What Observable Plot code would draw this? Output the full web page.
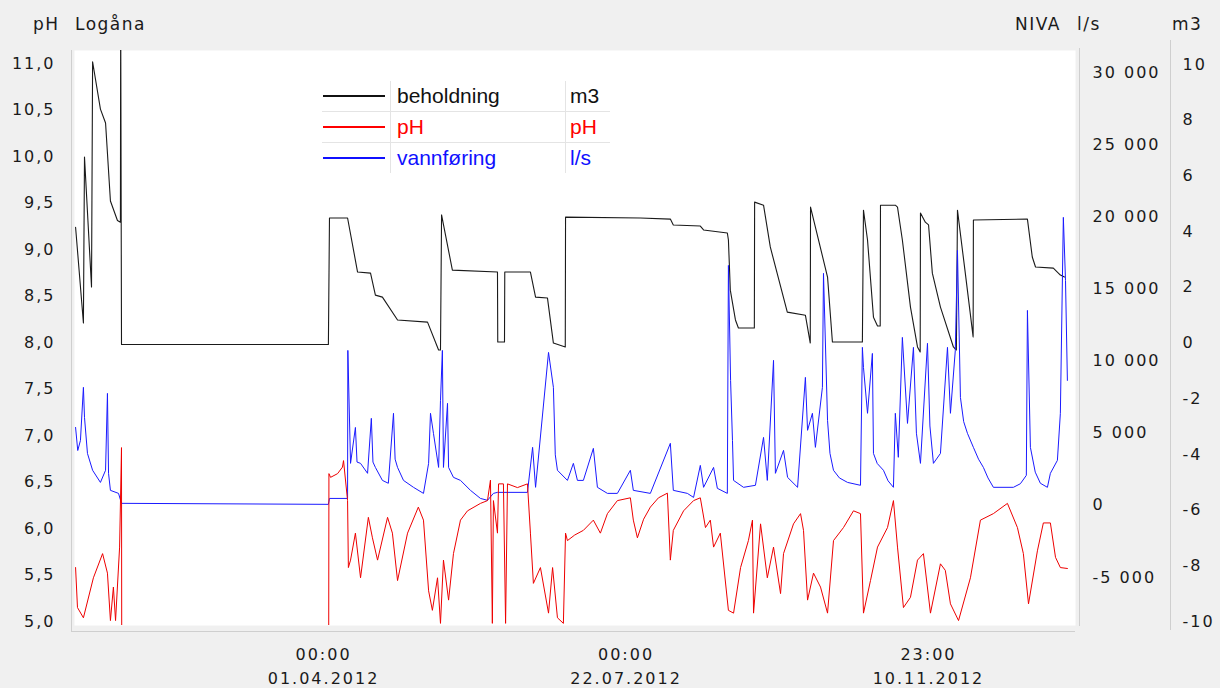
<!DOCTYPE html>
<html><head><meta charset="utf-8">
<script src="https://cdn.jsdelivr.net/npm/d3@7"></script>
<script src="https://cdn.jsdelivr.net/npm/@observablehq/plot@0.6"></script>
<style>
html,body{margin:0;padding:0;background:#f0f0f0;}
#wrap{position:relative;width:1220px;height:688px;overflow:hidden;font-family:"DejaVu Sans",sans-serif;}
#wrap svg{position:absolute;left:0;top:0;}
#wrap svg text{letter-spacing:2px;}
.hdr{position:absolute;top:14px;font-size:17px;letter-spacing:1.5px;color:#1a1a1a;white-space:nowrap;}
.vline{position:absolute;background:#cfcfcf;}
#legend{position:absolute;left:322px;top:81px;background:#fff;font-family:"Liberation Sans",Arial,sans-serif;font-size:21px;}
#legend table{border-collapse:collapse;border-style:hidden;}
#legend td{height:30px;padding:0;border:1px solid #e4e4e4;}
#legend .s{width:68px;}
#legend .s div{width:62px;height:2px;margin-left:1px;}
#legend .n{width:168px;padding-left:6px;}
#legend .u{width:40px;padding-left:4px;}
</style></head>
<body>
<div id="wrap">
  <div class="vline" style="left:71px;top:50px;width:1px;height:582px"></div>
  <div class="vline" style="left:71px;top:631px;width:1004px;height:1px"></div>
  <div class="vline" style="left:1079px;top:48px;width:1px;height:578px"></div>
  <div class="vline" style="left:1170px;top:40px;width:1px;height:590px"></div>
</div>
<script>
// ---- data (day = days since 2012-01-01 00:00) ----
const beholdning = [[-0.8,4.16],[2.1,0.72],[2.5,6.68],[5.1,2.01],[5.5,10.1],[8.4,8.4],[10.3,7.9],[12.1,5.1],[14.7,4.4],[15.8,4.34],[15.9,12],[16.2,-0.05],[92.8,-0.05],[93.2,4.49],[99.9,4.49],[103.6,2.55],[108.4,2.51],[110.2,1.72],[112.8,1.65],[118.4,0.83],[129.5,0.75],[133.6,-0.25],[134.3,-0.25],[134.7,4.6],[138.7,2.62],[155.4,2.55],[155.5,0.04],[158.0,0.04],[158.1,2.55],[167.6,2.55],[169.5,1.65],[173.9,1.62],[176.1,0],[180.5,-0.14],[180.6,4.52],[208.3,4.49],[219.4,4.45],[220.5,4.24],[230.5,4.2],[231.7,4.06],[240.5,3.95],[240.9,3.7],[241.6,1.9],[243.5,0.83],[244.6,0.54],[250.5,0.54],[250.6,5.06],[253.9,4.95],[256.4,3.45],[262.7,1.11],[269.4,1.0],[271.2,0],[271.3,4.88],[277.6,2.37],[279.4,0.04],[290.5,0.04],[290.9,4.77],[292.4,3.70],[294.6,0.93],[296.1,0.61],[297.1,0.61],[297.2,4.95],[302.7,4.95],[303.5,4.88],[305.3,3.70],[308.3,1.29],[310.9,-0.14],[311.9,-0.32],[312.0,4.67],[313.8,4.34],[315.0,4.24],[316.4,2.51],[319.4,1.29],[324.2,-0.14],[325.3,-0.25],[325.7,4.77],[328.6,2.51],[331.5,0.22],[331.6,4.42],[351.6,4.45],[353.4,3.09],[354.6,2.73],[361.2,2.69],[363.8,2.44],[365.3,2.37]];

const pH = [[-0.8,5.58],[-0.1,5.15],[2.1,5.04],[5.8,5.47],[9.2,5.73],[11.0,5.52],[12.1,5.01],[13.2,5.37],[14.0,5.01],[15.5,5.80],[16.2,6.87],[16.3,4.5],[92.9,4.5],[93.0,6.59],[93.6,6.55],[96.2,6.59],[98.0,6.66],[98.4,6.73],[99.9,6.30],[100.2,5.58],[101.0,5.66],[102.8,5.95],[104.7,5.47],[107.6,6.12],[109.1,5.90],[111.0,5.66],[114.7,6.12],[116.5,5.95],[118.4,5.44],[122.1,5.95],[126.1,6.23],[128.0,6.09],[129.9,5.33],[131.3,5.12],[133.2,5.47],[134.3,4.98],[135.4,5.66],[137.3,5.23],[139.1,5.73],[141.7,6.09],[144.3,6.19],[149.1,6.27],[151.7,6.30],[152.8,6.52],[153.5,4.98],[153.9,6.30],[155.4,5.95],[155.8,6.48],[157.6,6.48],[158.4,4.98],[159.1,6.48],[162.8,6.44],[166.5,6.48],[167.6,5.95],[168.7,5.41],[171.3,5.58],[174.3,5.09],[175.8,5.58],[177.6,5.04],[179.8,4.98],[180.6,5.95],[181.3,5.87],[184.0,5.93],[187.2,5.98],[190.9,6.09],[193.5,5.95],[196.1,6.16],[199.8,6.30],[204.6,6.33],[205.7,6.09],[207.2,5.90],[209.5,6.10],[212.0,6.23],[215.0,6.33],[218.3,6.38],[219.4,5.66],[220.5,5.98],[224.3,6.19],[228.0,6.30],[230.5,6.33],[232.4,6.01],[234.2,6.09],[235.4,5.80],[237.9,5.95],[240.9,5.12],[242.8,5.09],[245.4,5.58],[248.3,5.87],[249.8,6.09],[250.2,5.09],[252.8,6.05],[255.3,5.47],[257.6,5.80],[260.2,5.30],[261.3,5.73],[265.0,6.05],[267.6,6.16],[268.7,5.98],[270.2,5.23],[272.4,5.52],[275.0,5.37],[277.6,5.09],[279.8,5.87],[283.5,6.01],[287.2,6.19],[289.8,6.16],[290.9,5.09],[293.5,5.44],[296.1,5.80],[299.8,6.01],[302.0,6.30],[303.5,5.80],[305.7,5.15],[308.3,5.26],[310.9,5.66],[313.1,5.73],[315.7,5.09],[319.4,5.62],[321.2,5.55],[323.1,5.19],[326.1,5.01],[330.5,5.47],[334.2,6.09],[339.0,6.16],[344.2,6.27],[347.9,6.01],[350.1,5.73],[352.0,5.19],[355.3,5.76],[357.5,6.06],[360.1,6.06],[362.0,5.69],[363.8,5.58],[366.4,5.57]];

const vannforing = [[-0.8,5400],[0.0,3800],[1.0,4500],[2.1,8180],[2.5,6100],[3.6,3600],[5.5,2430],[8.4,1590],[10.3,2430],[11.0,7760],[11.4,2220],[12.1,1040],[15.1,830],[16.2,140],[92.8,70],[93.2,480],[99.9,480],[100.0,10740],[101.0,2910],[102.8,5400],[103.4,3000],[104.7,2910],[107.3,2220],[108.7,6030],[109.3,3000],[110.2,2630],[112.8,1730],[115.0,1530],[116.9,6380],[117.5,3200],[118.4,2630],[120.6,1730],[124.3,1250],[128.0,830],[129.9,2910],[130.6,6380],[131.7,4990],[133.6,2630],[134.3,7280],[135.0,10740],[135.4,2630],[136.9,7070],[137.3,2630],[139.1,1940],[141.7,1730],[145.4,1040],[149.1,480],[151.7,350],[153.9,830],[155.4,900],[166.5,900],[168.4,4020],[169.5,1250],[174.3,10600],[176.1,8180],[176.8,3500],[177.6,2430],[181.3,1730],[183.5,2910],[185.0,1730],[187.2,1730],[190.9,3950],[192.4,1250],[196.1,830],[199.8,830],[204.6,2430],[205.7,1040],[212.0,830],[219.4,4300],[220.5,1040],[225.7,830],[228.0,550],[230.5,2770],[231.7,1250],[235.4,2630],[236.8,1180],[240.5,830],[240.9,16630],[241.7,8660],[242.4,4500],[242.8,1730],[246.5,1250],[250.9,1390],[253.9,4710],[255.3,1730],[257.6,10050],[258.3,2220],[261.3,3810],[262.8,1940],[266.5,1250],[269.4,8870],[270.2,5200],[272.0,6380],[273.1,4020],[275.7,8180],[276.1,16080],[277.6,5890],[278.5,3600],[279.8,2430],[282.0,1900],[285.0,1590],[289.8,1390],[290.5,10950],[290.9,9560],[292.4,6380],[294.2,10530],[294.6,3600],[296.0,2900],[298.3,2430],[300.0,1700],[302.0,1250],[302.7,6380],[303.8,3330],[305.3,11640],[307.2,5680],[309.4,10950],[310.5,5000],[312.0,2910],[314.6,11230],[315.5,5500],[316.8,2910],[319.4,3600],[322.0,10950],[323.1,6380],[324.9,10740],[325.7,17670],[326.8,7480],[328.0,5800],[329.4,4990],[331.6,4020],[333.5,3200],[335.3,2630],[337.0,1900],[339.0,1250],[346.4,1250],[349.0,1500],[351.2,2080],[351.6,13510],[352.7,4020],[354.5,2300],[356.4,1530],[359.0,1250],[360.1,2220],[362.7,3120],[363.8,6380],[364.9,19960],[365.7,15590],[366.4,8660]];

const phTicks = [5, 5.5, 6, 6.5, 7, 7.5, 8, 8.5, 9, 9.5, 10, 10.5, 11];
const flowTicks = [-5000, 0, 5000, 10000, 15000, 20000, 25000, 30000];
const m3Ticks = [-10, -8, -6, -4, -2, 0, 2, 4, 6, 8, 10];
const dateTicks = ["2012-04-01T00:00Z", "2012-07-22T00:00Z", "2012-11-10T23:00Z"];
const dateTickLabels = ["00:00\n01.04.2012", "00:00\n22.07.2012", "23:00\n10.11.2012"];

const legendRows = [
  {name: "beholdning", unit: "m3", color: "#111"},
  {name: "pH", unit: "pH", color: "#ff0000"},
  {name: "vannføring", unit: "l/s", color: "#1010ff"}
];

// ---- build ----
const t0 = Date.UTC(2012, 0, 1);
const toDate = d => new Date(t0 + d * 864e5);
const rows = arr => arr.map(([d, v]) => ({date: toDate(d), v}));
const tickDates = dateTicks.map(s => new Date(s));
const labelOf = new Map(tickDates.map((d, i) => [+d, dateTickLabels[i]]));
const nb = d3.formatLocale({decimal: ",", thousands: " ", grouping: [3], currency: ["", ""], minus: "-"}).format(",");

const common = {
  width: 1220, height: 688,
  marginTop: 50, marginBottom: 63, marginLeft: 74, marginRight: 145,
  style: {background: "transparent", fontFamily: "DejaVu Sans, sans-serif", fontSize: "16px", color: "#1a1a1a", overflow: "visible"}
};
const xOpt = {type: "utc", domain: [toDate(-1.2), toDate(369.4)]};

const wrap = document.getElementById("wrap");

const pM3 = Plot.plot({
  ...common,
  x: {...xOpt, axis: null},
  y: {domain: [-10.14, 10.503], axis: null},
  marks: [
    Plot.frame({fill: "#fff", stroke: null}),
    Plot.line(rows(beholdning), {x: "date", y: "v", stroke: "#1a1a1a", strokeWidth: 1.1, clip: true}),
    Plot.axisY(m3Ticks, {anchor: "right", label: null, tickSize: 0, tickPadding: 107, tickFormat: d => String(d)})
  ]
});

const pFlow = Plot.plot({
  ...common,
  x: {...xOpt, axis: null},
  y: {domain: [-8327, 31525], axis: null},
  marks: [
    Plot.line(rows(vannforing), {x: "date", y: "v", stroke: "#1a1aff", strokeWidth: 1, clip: true}),
    Plot.axisY(flowTicks, {anchor: "right", label: null, tickSize: 0, tickPadding: 17, tickFormat: nb})
  ]
});

const pPh = Plot.plot({
  ...common,
  x: {...xOpt, axis: null},
  y: {domain: [4.957, 11.14], axis: null},
  marks: [
    Plot.line(rows(pH), {x: "date", y: "v", stroke: "#ee0000", strokeWidth: 1, clip: true}),
    Plot.axisY(phTicks, {anchor: "left", label: null, tickSize: 0, tickPadding: 19, tickFormat: d => d.toFixed(1).replace(".", ",")}),
    Plot.axisX(tickDates, {anchor: "bottom", label: null, tickSize: 0, tickPadding: 17, lineHeight: 1.5, tickFormat: d => labelOf.get(+d)})
  ]
});

wrap.appendChild(pM3);
wrap.appendChild(pFlow);
wrap.appendChild(pPh);

// headers
const hdrs = [["pH", 33], ["Logåna", 75], ["NIVA", 1015], ["l/s", 1077], ["m3", 1172]];
for (const [t, x] of hdrs) {
  const s = document.createElement("div");
  s.className = "hdr"; s.style.left = x + "px"; s.textContent = t;
  wrap.appendChild(s);
}

// legend
const lg = document.createElement("div");
lg.id = "legend";
const tb = document.createElement("table");
for (const r of legendRows) {
  const tr = document.createElement("tr");
  const a = document.createElement("td"); a.className = "s";
  const ln = document.createElement("div"); ln.style.background = r.color; a.appendChild(ln);
  const b = document.createElement("td"); b.className = "n"; b.textContent = r.name; b.style.color = r.color;
  const c = document.createElement("td"); c.className = "u"; c.textContent = r.unit; c.style.color = r.color;
  tr.append(a, b, c); tb.appendChild(tr);
}
lg.appendChild(tb);
wrap.appendChild(lg);
</script>
</body></html>
